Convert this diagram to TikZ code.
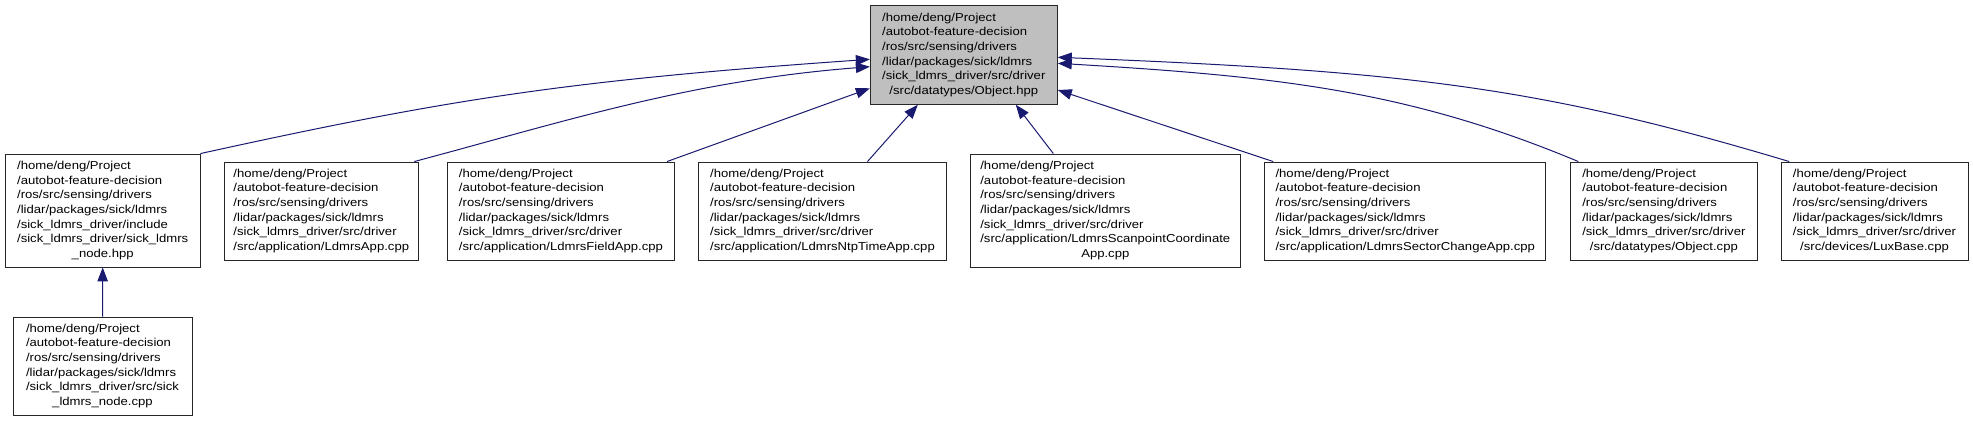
\documentclass[tikz,border=0pt]{standalone}
\usepackage{fontspec}
\setmainfont{Liberation Sans}[FakeStretch=1.14]
\usetikzlibrary{arrows.meta,calc}
\definecolor{edgeblue}{HTML}{191970}
\definecolor{topfill}{HTML}{BFBFBF}
\newcommand\boxtext[2]{\begin{tabular}{@{}l@{}}#1\\\multicolumn{1}{@{}c@{}}{#2}\end{tabular}}
\tikzset{
  filebox/.style={draw=black!85, line width=0.9pt, inner sep=0pt, rectangle, fill=white,
    font=\fontsize{11.5}{14.7}\selectfont},
  topbox/.style={filebox, fill=topfill},
  edge/.style={draw=edgeblue, line width=1pt, -{Triangle[length=14pt,width=10.5pt,fill=edgeblue]}}
}
\begin{document}
\begin{tikzpicture}[x=1pt,y=-1pt]
\useasboundingbox (0,0) rectangle (1973,421);
\node[topbox, minimum width=187pt, minimum height=98.6pt] (T) at (963.8,55)
  {\boxtext{/home/deng/Project\\/autobot-feature-decision\\/ros/src/sensing/drivers\\/lidar/packages/sick/ldmrs\\/sick\_ldmrs\_driver/src/driver}{/src/datatypes/Object.hpp}};
\node[filebox, minimum width=194.6pt, minimum height=113pt] (A) at (102.7,210.5)
  {\boxtext{/home/deng/Project\\/autobot-feature-decision\\/ros/src/sensing/drivers\\/lidar/packages/sick/ldmrs\\/sick\_ldmrs\_driver/include\\/sick\_ldmrs\_driver/sick\_ldmrs}{\_node.hpp}};
\node[filebox, minimum width=179pt, minimum height=98pt] (N) at (102.5,366)
  {\boxtext{/home/deng/Project\\/autobot-feature-decision\\/ros/src/sensing/drivers\\/lidar/packages/sick/ldmrs\\/sick\_ldmrs\_driver/src/sick}{\_ldmrs\_node.cpp}};
\node[filebox, minimum width=194pt, minimum height=98pt] (B) at (321.3,211)
  {\boxtext{/home/deng/Project\\/autobot-feature-decision\\/ros/src/sensing/drivers\\/lidar/packages/sick/ldmrs\\/sick\_ldmrs\_driver/src/driver}{/src/application/LdmrsApp.cpp}};
\node[filebox, minimum width=226.6pt, minimum height=98pt] (C) at (561,211)
  {\boxtext{/home/deng/Project\\/autobot-feature-decision\\/ros/src/sensing/drivers\\/lidar/packages/sick/ldmrs\\/sick\_ldmrs\_driver/src/driver}{/src/application/LdmrsFieldApp.cpp}};
\node[filebox, minimum width=247.7pt, minimum height=98pt] (D) at (822.5,211)
  {\boxtext{/home/deng/Project\\/autobot-feature-decision\\/ros/src/sensing/drivers\\/lidar/packages/sick/ldmrs\\/sick\_ldmrs\_driver/src/driver}{/src/application/LdmrsNtpTimeApp.cpp}};
\node[filebox, minimum width=270.6pt, minimum height=113pt] (E) at (1105.3,210.5)
  {\boxtext{/home/deng/Project\\/autobot-feature-decision\\/ros/src/sensing/drivers\\/lidar/packages/sick/ldmrs\\/sick\_ldmrs\_driver/src/driver\\/src/application/LdmrsScanpointCoordinate}{App.cpp}};
\node[filebox, minimum width=281.1pt, minimum height=98pt] (F) at (1405.25,211)
  {\boxtext{/home/deng/Project\\/autobot-feature-decision\\/ros/src/sensing/drivers\\/lidar/packages/sick/ldmrs\\/sick\_ldmrs\_driver/src/driver}{/src/application/LdmrsSectorChangeApp.cpp}};
\node[filebox, minimum width=187.1pt, minimum height=98pt] (G) at (1663.85,211)
  {\boxtext{/home/deng/Project\\/autobot-feature-decision\\/ros/src/sensing/drivers\\/lidar/packages/sick/ldmrs\\/sick\_ldmrs\_driver/src/driver}{/src/datatypes/Object.cpp}};
\node[filebox, minimum width=187pt, minimum height=98pt] (H) at (1874.5,211)
  {\boxtext{/home/deng/Project\\/autobot-feature-decision\\/ros/src/sensing/drivers\\/lidar/packages/sick/ldmrs\\/sick\_ldmrs\_driver/src/driver}{/src/devices/LuxBase.cpp}};

\draw[edge] (A.north east) .. controls +(250,-55) and +(-300,21) .. ([yshift=-4.3pt]T.west);
\draw[edge] ([xshift=93pt]B.north) .. controls +(150,-40) and +(-180,14) .. ([yshift=-11.7pt]T.west);
\draw[edge] ([xshift=106pt]C.north) -- ([yshift=-33.3pt]T.west);
\draw[edge] ([xshift=45pt]D.north) -- ([xshift=-46pt]T.south);
\draw[edge] ([xshift=-52pt]E.north) -- ([xshift=52pt]T.south);
\draw[edge] ([xshift=-132pt]F.north) -- ([yshift=-35pt]T.east);
\draw[edge] ([xshift=-85.5pt]G.north) .. controls +(-170,-71) and +(220,13) .. ([yshift=-8.3pt]T.east);
\draw[edge] ([xshift=-85.3pt]H.north) .. controls +(-250,-75) and +(350,14) .. ([yshift=-2.3pt]T.east);
\draw[edge] (N.north) -- (A.south);
\end{tikzpicture}
\end{document}
